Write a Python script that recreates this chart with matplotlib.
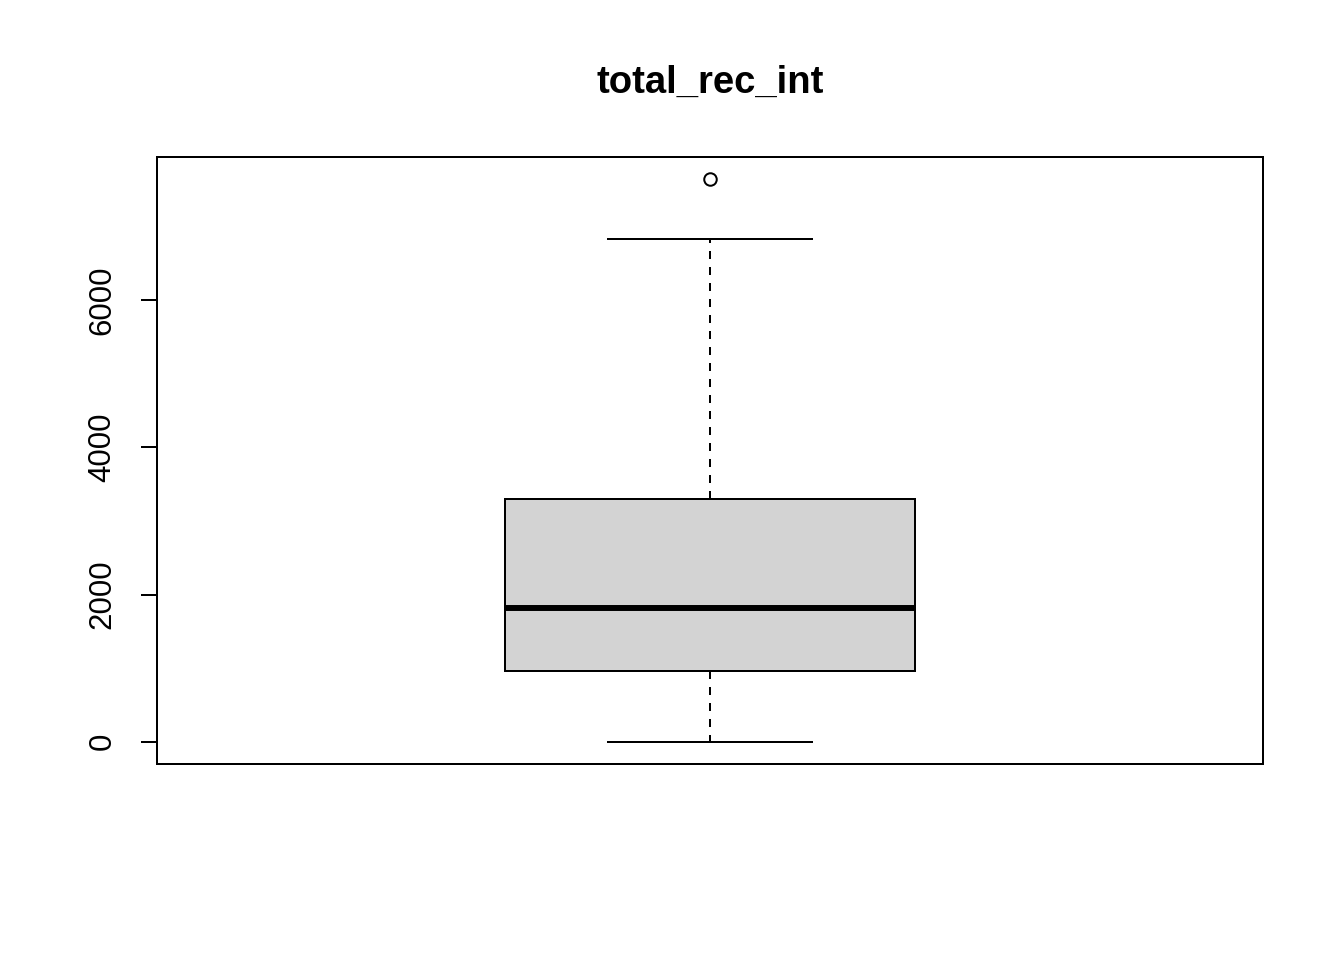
import matplotlib
matplotlib.use("Agg")
import matplotlib.pyplot as plt

plt.rcParams['font.family'] = ['Liberation Sans', 'DejaVu Sans']

# box statistics
title = "total_rec_int"
whisker_low = 0
q1 = 966
median = 1823
q3 = 3306
whisker_high = 6830
outliers = [7646]
yticks = [0, 2000, 4000, 6000]

stats = [{
    "whislo": whisker_low, "q1": q1, "med": median,
    "q3": q3, "whishi": whisker_high, "fliers": outliers,
}]

fig = plt.figure(figsize=(13.44, 9.6), dpi=100)
ax = fig.add_axes([157 / 1344, 1 - 764 / 960, (1263 - 157) / 1344, (764 - 157) / 960])

lw = 1.44
ax.bxp(stats, positions=[1], widths=0.4, patch_artist=True,
       boxprops=dict(facecolor="#d3d3d3", edgecolor="black", linewidth=lw),
       medianprops=dict(color="black", linewidth=4.3, solid_capstyle="butt"),
       whiskerprops=dict(color="black", linewidth=lw, linestyle=(0, (4, 4))),
       capprops=dict(color="black", linewidth=lw),
       capwidths=0.2,
       flierprops=dict(marker="o", markerfacecolor="none", markeredgecolor="black",
                       markersize=9, markeredgewidth=lw))

span = max(outliers) - whisker_low
ax.set_ylim(whisker_low - 0.04 * span, max(outliers) + 0.04 * span)
ax.set_xlim(0.46, 1.54)

ax.set_xticks([])
ax.set_yticks(yticks)
ax.set_yticklabels([str(t) for t in yticks], rotation=90, va="center", fontsize=22.5)
ax.tick_params(axis="y", length=11.5, width=lw, pad=17)
for s in ax.spines.values():
    s.set_linewidth(lw)

fig.text(710 / 1344, 1 - 93 / 960, title, ha="center", va="baseline",
         fontsize=27.5, fontweight="bold")

fig.savefig("out.png", dpi=100)
